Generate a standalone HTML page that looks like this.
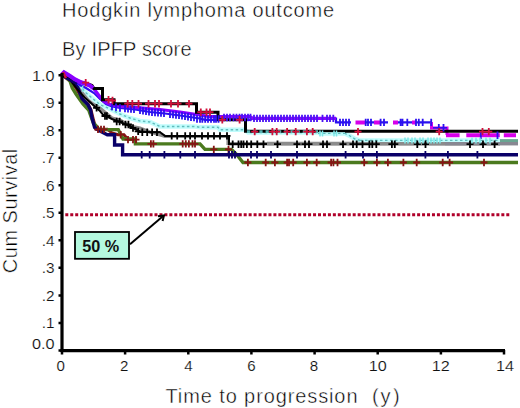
<!DOCTYPE html>
<html><head><meta charset="utf-8"><style>
html,body{margin:0;padding:0;background:#fff;}
body{width:520px;height:408px;overflow:hidden;}
svg{display:block;font-family:"Liberation Sans",sans-serif;}
</style></head><body>
<svg width="520" height="408" viewBox="0 0 520 408">
<rect width="520" height="408" fill="#fff"/>
<g fill="#000" font-size="20" stroke="#fff" stroke-width="0.45">
<text x="62.1" y="16.6" textLength="271.9" lengthAdjust="spacing">Hodgkin lymphoma outcome</text>
<text x="62.0" y="55.6" textLength="129.5" lengthAdjust="spacing">By IPFP score</text>
<text x="165.5" y="402.5" textLength="192" lengthAdjust="spacing">Time to progression</text>
<text x="372" y="402.5">(</text><text x="380.5" y="402.5">y</text><text x="393" y="402.5">)</text>
<text transform="translate(16.9,273.2) rotate(-90)" textLength="124.5" lengthAdjust="spacing">Cum Survival</text>
</g>
<g fill="#111" font-size="14.8" stroke="#fff" stroke-width="0.15">
<text x="32.0" y="348.7" textLength="22.6" lengthAdjust="spacingAndGlyphs">0.0</text>
<text x="41.8" y="328.2" textLength="12.8" lengthAdjust="spacingAndGlyphs">.1</text>
<text x="41.8" y="300.7" textLength="12.8" lengthAdjust="spacingAndGlyphs">.2</text>
<text x="41.8" y="273.1" textLength="12.8" lengthAdjust="spacingAndGlyphs">.3</text>
<text x="41.8" y="245.6" textLength="12.8" lengthAdjust="spacingAndGlyphs">.4</text>
<text x="41.8" y="217.6" textLength="12.8" lengthAdjust="spacingAndGlyphs">.5</text>
<text x="41.8" y="190.6" textLength="12.8" lengthAdjust="spacingAndGlyphs">.6</text>
<text x="41.8" y="163.1" textLength="12.8" lengthAdjust="spacingAndGlyphs">.7</text>
<text x="41.8" y="135.5" textLength="12.8" lengthAdjust="spacingAndGlyphs">.8</text>
<text x="41.8" y="108.0" textLength="12.8" lengthAdjust="spacingAndGlyphs">.9</text>
<text x="32.1" y="80.7" textLength="22.5" lengthAdjust="spacingAndGlyphs">1.0</text>
<text x="56.4" y="370.6" textLength="8.4" lengthAdjust="spacingAndGlyphs">0</text>
<text x="119.9" y="370.6" textLength="8.4" lengthAdjust="spacingAndGlyphs">2</text>
<text x="184.2" y="370.6" textLength="8.4" lengthAdjust="spacingAndGlyphs">4</text>
<text x="247.3" y="370.6" textLength="8.4" lengthAdjust="spacingAndGlyphs">6</text>
<text x="309.8" y="370.6" textLength="8.4" lengthAdjust="spacingAndGlyphs">8</text>
<text x="368.8" y="370.6" textLength="18.0" lengthAdjust="spacingAndGlyphs">10</text>
<text x="431.7" y="370.6" textLength="18.0" lengthAdjust="spacingAndGlyphs">12</text>
<text x="496.0" y="370.6" textLength="18.0" lengthAdjust="spacingAndGlyphs">14</text>
</g>
<path d="M65.30,214.7h3 M70.25,214.7h3 M75.21,214.7h3 M80.16,214.7h3 M85.12,214.7h3 M90.07,214.7h3 M95.03,214.7h3 M99.98,214.7h3 M104.94,214.7h3 M109.89,214.7h3 M114.85,214.7h3 M119.81,214.7h3 M124.76,214.7h3 M129.72,214.7h3 M134.67,214.7h3 M139.62,214.7h3 M144.58,214.7h3 M149.53,214.7h3 M154.49,214.7h3 M159.44,214.7h3 M164.40,214.7h3 M169.36,214.7h3 M174.31,214.7h3 M179.26,214.7h3 M184.22,214.7h3 M189.18,214.7h3 M194.13,214.7h3 M199.08,214.7h3 M204.04,214.7h3 M209.00,214.7h3 M213.95,214.7h3 M218.90,214.7h3 M223.86,214.7h3 M228.81,214.7h3 M233.77,214.7h3 M238.73,214.7h3 M243.68,214.7h3 M248.63,214.7h3 M253.59,214.7h3 M258.55,214.7h3 M263.50,214.7h3 M268.45,214.7h3 M273.41,214.7h3 M278.37,214.7h3 M283.32,214.7h3 M288.27,214.7h3 M293.23,214.7h3 M298.19,214.7h3 M303.14,214.7h3 M308.10,214.7h3 M313.05,214.7h3 M318.00,214.7h3 M322.96,214.7h3 M327.92,214.7h3 M332.87,214.7h3 M337.82,214.7h3 M342.78,214.7h3 M347.74,214.7h3 M352.69,214.7h3 M357.65,214.7h3 M362.60,214.7h3 M367.56,214.7h3 M372.51,214.7h3 M377.47,214.7h3 M382.42,214.7h3 M387.38,214.7h3 M392.33,214.7h3 M397.29,214.7h3 M402.24,214.7h3 M407.19,214.7h3 M412.15,214.7h3 M417.11,214.7h3 M422.06,214.7h3 M427.02,214.7h3 M431.97,214.7h3 M436.93,214.7h3 M441.88,214.7h3 M446.84,214.7h3 M451.79,214.7h3 M456.75,214.7h3 M461.70,214.7h3 M466.66,214.7h3 M471.61,214.7h3 M476.56,214.7h3 M481.52,214.7h3 M486.48,214.7h3 M491.43,214.7h3 M496.38,214.7h3 M501.34,214.7h3 M506.30,214.7h3" stroke="#b0002a" stroke-width="3" fill="none"/>
<path d="M62,74.5 L70,79 L78,85 L82.7,88.8 L85,92 L92,98 L100.4,104.8 L109,108.4 L120,114 L130,118 L140,121 L150,122 L160,126.5 H195 L200,127.3 H218 L220,129.8 H245 L248,132.5 H318 L320,133.4 H345 L350,136 L355,139 L360,140.4 H500" stroke="#c0fcfc" stroke-width="4.5" fill="none" />
<path d="M62,74.5 L70,79 L78,85 L82.7,88.8 L85,92 L92,98 L100.4,104.8 L109,108.4 L120,114 L130,118 L140,121 L150,122 L160,126.5 H195 L200,127.3 H218 L220,129.8 H245 L248,132.5 H318 L320,133.4 H345 L350,136 L355,139 L360,140.4 H500" stroke="#62bcbc" stroke-width="1.4" fill="none" stroke-dasharray="2.5 2.5"/>
<path d="M62,75 L70,80 L80,90 L88,100 L93,104 L100,108 L112,118 L120,120 L130,126 L140,128 L150,132 L165,136.5 H228 V143.5 H518" stroke="#8c8c8c" stroke-width="3.2" fill="none" />
<path d="M62,75 L70,81 L76,88 L80,95 L84,101 L88,104 L91,110 L93,118 L96,129.2 H107.3 L112,133 L118,134.7 H124 L128,139.6 H136" stroke="#861414" stroke-width="3" fill="none" />
<path d="M62,75 L66,77 L70,81 L72.3,88 L76,94 L80.2,100 L83,104 L86.3,107.5 L88.7,110 L90.7,115.6 L93.2,122.5 L96.6,126.4 L99,129.6 H118.3 L123,139 H135.4 V143.9 H200 L205,149.4 H231.5 L237,155 L243,162.5 H518" stroke="#4b7a1e" stroke-width="3.4" fill="none" />
<path d="M62,75.5 L68,78 L74,82 L78,88 L82,98.6 L88,104.8 L90.6,110 L92,118 L94.6,127.4 L100,131 L107.3,134.7 H114.6 V145 H122.6 V154.8 H518" stroke="#0a0068" stroke-width="3.4" fill="none" />
<path d="M62,75 L70,80 L78,90 L84.5,97.4 L91,103 L95.5,107.2 L100,111 L103,114.6 L107,116.5 L112,119 L117,121 L125,124 L130,126 L135,129 L140,131.5 L150,132.2 H160 L165,135.9 H229 V144.2 H500" stroke="#000" stroke-width="2" fill="none" />
<path d="M267,143.5 H518" stroke="#8c8c8c" stroke-width="3.6" fill="none" />
<path d="M360,140.4 H500" stroke="#c0fcfc" stroke-width="3" fill="none" />
<path d="M360,140.4 H500" stroke="#62bcbc" stroke-width="1.2" fill="none" stroke-dasharray="2.5 2.5"/>
<path d="M500,140.6 H518" stroke="#6aa592" stroke-width="3" fill="none" />
<path d="M445,143.6 H518" stroke="#888892" stroke-width="3.4" fill="none" />
<path d="M62,75 L70,79 L78,84 L86,88 L94,93 L100,99 L106,104 L112,106.5 L120,108 L135,109.5 L150,112 L165,113.5 L180,115.5 L200,118.5 L205,119.8 H250 L253,118.5 H336 V122.4 H351 M365,122.4 H374 M380,122.4 H388 M398,122.4 H412 M416,122.4 H431" stroke="#2b10f0" stroke-width="2.2" fill="none" />
<path d="M62,74.5 L64,72.5 L70,76 L75,79.5 L80,82 L85,83.5 L90,85.5 L95,90 L100,97 L104,101.5 L110,104.5 L118,106 L130,107 L140,107.8 L160,109.5 L180,112 L200,115 L210,116.6 H250 L253,118.3 H336" stroke="#8a00ff" stroke-width="3.2" fill="none" />
<path d="M355.5,122.5 H365 M374,122.5 H380 M393,122.5 H398 M412,122.5 H416" stroke="#d600ea" stroke-width="4" fill="none" />
<path d="M446,135.3 H459.6 M466.3,135.3 H499.8 M503.8,135.3 H516" stroke="#d600ea" stroke-width="4" fill="none" />
<path d="M431.5,122 V128 H447 V135" stroke="#d600ea" stroke-width="3" fill="none" />
<path d="M433,127.8 H447" stroke="#2b10f0" stroke-width="1.6" fill="none" />
<path d="M62,75 L70,78 L80,82 L88,84 L92,85.5 L94,88.5 H102.5 V99.8 H114 V103.7 H196.5 V112.2 H218 V119.8 H245.5 V131.3 H518" stroke="#000" stroke-width="3" fill="none" />
<path d="M62,74.5 L64,72.5 L70,76 L75,79.5 L80,82 L85,83.5 L90,85.5 L93,88" stroke="#8a00ff" stroke-width="4.2" fill="none" />
<path d="M66,78 L72,81.5 L77,84" stroke="#0a0068" stroke-width="2.2" fill="none" />
<path d="M63,72 L66,78" stroke="#d0103a" stroke-width="2.5" fill="none" />
<path d="M247,131.6 H318" stroke="#58b4b4" stroke-width="2.6" fill="none" stroke-dasharray="3.2 3"/>
<path d="M318,133.4 H345" stroke="#c0fcfc" stroke-width="2.4" fill="none" />
<path d="M318,133.4 H345" stroke="#62bcbc" stroke-width="1.2" fill="none" stroke-dasharray="2.5 2.5"/>
<path d="M98,125.7v7.4M94.5,129.4h7 M101,125.7v7.4M97.5,129.4h7 M104,125.7v7.4M100.5,129.4h7 M120.7,131.0v7.4M117.2,134.7h7 M128,135.9v7.4M124.5,139.6h7 M133,135.9v7.4M129.5,139.6h7 M136,135.9v7.4M132.5,139.6h7 M150.9,140.2v7.4M147.4,143.9h7 M153.4,140.2v7.4M149.9,143.9h7 M182.7,140.2v7.4M179.2,143.9h7 M185.8,140.2v7.4M182.3,143.9h7 M188.9,140.2v7.4M185.4,143.9h7 M192.5,140.2v7.4M189.0,143.9h7 M195,140.2v7.4M191.5,143.9h7 M213.8,145.7v7.4M210.3,149.4h7 M228.5,145.7v7.4M225.0,149.4h7 M247.9,158.8v7.4M244.4,162.5h7 M265.7,158.8v7.4M262.2,162.5h7 M274.9,158.8v7.4M271.4,162.5h7 M287.1,158.8v7.4M283.6,162.5h7 M289,158.8v7.4M285.5,162.5h7 M293.2,158.8v7.4M289.7,162.5h7 M306.9,158.8v7.4M303.4,162.5h7 M316.7,158.8v7.4M313.2,162.5h7 M331.1,158.8v7.4M327.6,162.5h7 M333.4,158.8v7.4M329.9,162.5h7 M337.5,158.8v7.4M334.0,162.5h7 M364.2,158.8v7.4M360.7,162.5h7 M376.9,158.8v7.4M373.4,162.5h7 M387.9,158.8v7.4M384.4,162.5h7 M403.4,158.8v7.4M399.9,162.5h7 M416.7,158.8v7.4M413.2,162.5h7 M442.7,158.8v7.4M439.2,162.5h7 M449.6,158.8v7.4M446.1,162.5h7 M484,158.8v7.4M480.5,162.5h7" stroke="#861414" stroke-width="1.8" fill="none"/>
<path d="M141.7,151.1v7.4M138.2,154.8h7 M149.7,151.1v7.4M146.2,154.8h7 M164.4,151.1v7.4M160.9,154.8h7 M180.3,151.1v7.4M176.8,154.8h7 M195,151.1v7.4M191.5,154.8h7 M229,151.1v7.4M225.5,154.8h7 M232,151.1v7.4M228.5,154.8h7 M235,151.1v7.4M231.5,154.8h7 M251,151.1v7.4M247.5,154.8h7 M257,151.1v7.4M253.5,154.8h7 M271,151.1v7.4M267.5,154.8h7 M297,151.1v7.4M293.5,154.8h7 M345.6,151.1v7.4M342.1,154.8h7 M363,151.1v7.4M359.5,154.8h7 M376.9,151.1v7.4M373.4,154.8h7 M425.4,151.1v7.4M421.9,154.8h7 M447.9,151.1v7.4M444.4,154.8h7 M477.4,151.1v7.4M473.9,154.8h7" stroke="#0a0068" stroke-width="1.8" fill="none"/>
<path d="M96.6,104.1v7.4M93.1,107.8h7 M105,112.3v7.4M101.5,116h7 M106.9,112.3v7.4M103.4,116h7 M116.7,117.8v7.4M113.2,121.5h7 M119.6,117.8v7.4M116.1,121.5h7 M125.5,120.8v7.4M122.0,124.5h7 M128.4,120.8v7.4M124.9,124.5h7 M133,124.3v7.4M129.5,128h7 M138.2,127.7v7.4M134.7,131.4h7 M142.3,128.5v7.4M138.8,132.2h7 M147.2,128.5v7.4M143.7,132.2h7 M152.1,128.5v7.4M148.6,132.2h7 M157,128.5v7.4M153.5,132.2h7 M171.7,132.2v7.4M168.2,135.9h7 M177.2,132.2v7.4M173.7,135.9h7 M185.2,132.2v7.4M181.7,135.9h7 M190.1,132.2v7.4M186.6,135.9h7 M195,132.2v7.4M191.5,135.9h7 M202,132.2v7.4M198.5,135.9h7 M208,132.2v7.4M204.5,135.9h7 M214,132.2v7.4M210.5,135.9h7 M220,132.2v7.4M216.5,135.9h7 M227,132.2v7.4M223.5,135.9h7 M232.7,140.5v7.4M229.2,144.2h7 M238.5,140.5v7.4M235.0,144.2h7 M241.2,140.5v7.4M237.7,144.2h7 M243.5,140.5v7.4M240.0,144.2h7 M246.9,140.5v7.4M243.4,144.2h7 M251.2,140.5v7.4M247.7,144.2h7 M257.3,140.5v7.4M253.8,144.2h7 M263.5,140.5v7.4M260.0,144.2h7 M277.5,140.5v7.4M274.0,144.2h7 M297,140.5v7.4M293.5,144.2h7 M305,140.5v7.4M301.5,144.2h7 M309,140.5v7.4M305.5,144.2h7 M323,140.5v7.4M319.5,144.2h7 M327,140.5v7.4M323.5,144.2h7 M343,140.5v7.4M339.5,144.2h7 M353,140.5v7.4M349.5,144.2h7 M356.7,140.5v7.4M353.2,144.2h7 M362.5,140.5v7.4M359.0,144.2h7 M369.4,140.5v7.4M365.9,144.2h7 M372.3,140.5v7.4M368.8,144.2h7 M376.3,140.5v7.4M372.8,144.2h7 M391.9,140.5v7.4M388.4,144.2h7 M394.8,140.5v7.4M391.3,144.2h7 M417.3,140.5v7.4M413.8,144.2h7 M425.5,140.5v7.4M422.0,144.2h7 M470,140.5v7.4M466.5,144.2h7 M483,140.5v7.4M479.5,144.2h7 M494.6,140.5v7.4M491.1,144.2h7" stroke="#000" stroke-width="1.8" fill="none"/>
<path d="M112,102.8v7.4 M116,103.5v7.4 M120,104.3v7.4 M125,104.8v7.4 M128,105.1v7.4 M131,105.4v7.4 M134,105.7v7.4 M140,106.6v7.4 M143,107.1v7.4 M146,107.6v7.4 M149,108.1v7.4 M152,108.5v7.4 M155,108.8v7.4 M158,109.1v7.4 M161,109.4v7.4 M164,109.7v7.4 M170,110.5v7.4 M173,110.9v7.4 M176,111.3v7.4 M179,111.7v7.4 M182,112.1v7.4 M185,112.5v7.4 M188,113.0v7.4 M191,113.5v7.4 M194,113.9v7.4 M197,115.3v7.4 M200,115.3v7.4 M202.3,115.3v7.4 M205.2,115.3v7.4 M208,115.3v7.4 M211,115.3v7.4 M214,115.3v7.4 M216,115.3v7.4 M218.5,115.3v7.4 M340,118.7v7.4 M343,118.7v7.4 M346,118.7v7.4 M349,118.7v7.4 M365.7,118.7v7.4 M368,118.7v7.4 M371,118.7v7.4 M380.6,118.7v7.4 M384,118.7v7.4 M400.6,118.7v7.4 M402.5,118.7v7.4 M407.3,118.7v7.4 M416,118.7v7.4 M418.8,118.7v7.4 M422.7,118.7v7.4 M431.2,118.7v7.4 M438.8,124.1v7.4 M443.5,124.1v7.4 M480.8,131.6v7.4 M497.5,131.6v7.4" stroke="#2b10f0" stroke-width="1.8" fill="none"/>
<path d="M224,113.8v7.4 M227,113.8v7.4 M230,113.8v7.4 M233.5,113.8v7.4 M236.5,113.8v7.4 M239.5,113.8v7.4 M242,113.8v7.4 M245,113.8v7.4 M248,113.8v7.4 M250.5,113.8v7.4 M254,114.7v7.4 M257,114.7v7.4 M260,114.7v7.4 M263,114.7v7.4 M266,114.7v7.4 M269,114.7v7.4 M272,114.7v7.4 M275,114.7v7.4 M278,114.7v7.4 M281,114.7v7.4 M284,114.7v7.4 M287,114.7v7.4 M290,114.7v7.4 M293,114.7v7.4 M296,114.7v7.4 M299,114.7v7.4 M302,114.7v7.4 M305,114.7v7.4 M308,114.7v7.4 M311,114.7v7.4 M314,114.7v7.4 M317,114.7v7.4 M322.5,114.7v7.4 M327,114.7v7.4 M330,114.7v7.4 M333.3,114.7v7.4" stroke="#4a12f4" stroke-width="1.8" fill="none"/>
<path d="M82.6,85.8v6 M320,130.6v6 M322.5,130.6v6 M334,130.6v6 M336.5,130.6v6 M405,137.4v6 M408,137.4v6 M412,137.4v6 M415,137.4v6 M420,137.4v6 M423,137.4v6 M428,137.4v6 M431,137.4v6 M434,137.4v6 M437,137.4v6 M440,137.4v6 M472,137.4v6 M476,137.4v6 M480,137.4v6 M486,137.4v6 M490,137.4v6" stroke="#7fe8e8" stroke-width="1.5" fill="none"/>
<path d="M85.7,78.9v7.4M82.2,82.6h7 M108.5,96.1v7.4M105.0,99.8h7 M112.5,96.8v7.4M109.0,100.5h7 M127.7,100.0v7.4M124.2,103.7h7 M132.3,100.0v7.4M128.8,103.7h7 M138.5,100.0v7.4M135.0,103.7h7 M148.5,100.0v7.4M145.0,103.7h7 M155,100.0v7.4M151.5,103.7h7 M159,100.0v7.4M155.5,103.7h7 M171,100.0v7.4M167.5,103.7h7 M178,100.0v7.4M174.5,103.7h7 M189,100.0v7.4M185.5,103.7h7 M200.8,108.5v7.4M197.3,112.2h7 M206.5,108.5v7.4M203.0,112.2h7 M210,108.5v7.4M206.5,112.2h7 M222.3,116.1v7.4M218.8,119.8h7 M239.6,116.1v7.4M236.1,119.8h7 M254.7,127.9v7.4M251.2,131.6h7 M272.4,127.9v7.4M268.9,131.6h7 M276.7,127.9v7.4M273.2,131.6h7 M287.1,127.9v7.4M283.6,131.6h7 M295.7,127.9v7.4M292.2,131.6h7 M306.9,127.9v7.4M303.4,131.6h7 M312.7,127.9v7.4M309.2,131.6h7 M358,127.9v7.4M354.5,131.6h7 M439.2,127.9v7.4M435.7,131.6h7 M482.5,127.9v7.4M479.0,131.6h7 M488.8,127.9v7.4M485.3,131.6h7" stroke="#d0103a" stroke-width="1.8" fill="none"/>
<path d="M62,73 V352" stroke="#000" stroke-width="3.2" fill="none"/>
<path d="M60.5,350.6 H505" stroke="#000" stroke-width="3.4" fill="none"/>
<path d="M58.5,350.4H62 M58.5,322.9H62 M58.5,295.4H62 M58.5,267.8H62 M58.5,240.3H62 M58.5,212.8H62 M58.5,185.3H62 M58.5,157.8H62 M58.5,130.2H62 M58.5,102.7H62 M58.5,75.2H62" stroke="#000" stroke-width="2.5" fill="none"/>
<path d="M62.0,350V354.5 M125.1,350V354.5 M188.3,350V354.5 M251.4,350V354.5 M314.6,350V354.5 M377.7,350V354.5 M440.9,350V354.5 M504.0,350V354.5" stroke="#000" stroke-width="2.5" fill="none"/>
<rect x="75" y="232" width="54" height="26.8" fill="#b4f9df" stroke="#000" stroke-width="1.8"/>
<text x="82.2" y="252.1" font-size="16.2" font-weight="bold" fill="#111" textLength="37" lengthAdjust="spacingAndGlyphs">50 %</text>
<path d="M130,244.2 L163.5,215.8" stroke="#000" stroke-width="2" fill="none"/>
<path d="M158,216.2 L164,215.4 L162.6,221" stroke="#000" stroke-width="2" fill="none"/>
</svg>
</body></html>
